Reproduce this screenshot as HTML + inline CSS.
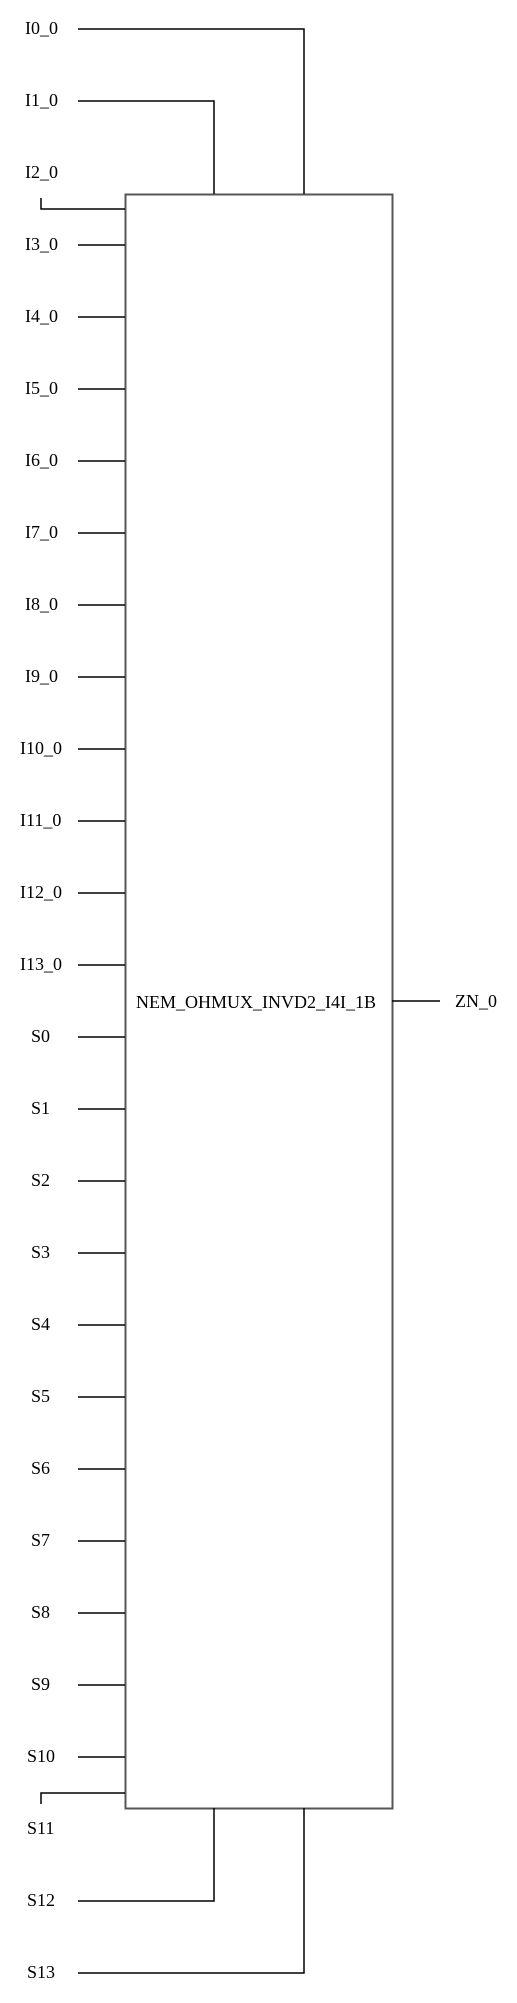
<!DOCTYPE html>
<html><head><meta charset="utf-8"><style>
html,body{margin:0;padding:0;background:#fff;width:517px;height:2003px;overflow:hidden}
svg text{font-family:"Liberation Serif",serif;font-size:18px;fill:#000}
</style></head><body>
<svg id="sch" width="517" height="2003" viewBox="0 0 517 2003" xmlns="http://www.w3.org/2000/svg">
<rect x="125.5" y="194.5" width="267" height="1614" fill="none" stroke="#555" stroke-width="2"/>
<text x="136" y="1008">NEM_OHMUX_INVD2_I4I_1B</text>
<line x1="392" y1="1001" x2="440" y2="1001" stroke="#000" stroke-width="1.5"/>
<text x="455" y="1007">ZN_0</text>
<g id="pins"></g>
</svg>
<script>
const pinNames = ["I0_0","I1_0","I2_0","I3_0","I4_0","I5_0","I6_0","I7_0","I8_0","I9_0","I10_0","I11_0","I12_0","I13_0","S0","S1","S2","S3","S4","S5","S6","S7","S8","S9","S10","S11","S12","S13"];
const g = document.getElementById('pins');
const NS = 'http://www.w3.org/2000/svg';
const rowY = i => 29 + 72 * i;
function mk(tag, attrs){const e=document.createElementNS(NS,tag);for(const k in attrs)e.setAttribute(k,attrs[k]);g.appendChild(e);return e;}
pinNames.forEach((n,i)=>{
  const y = rowY(i);
  const t = mk('text',{x: n.startsWith('S') ? (n.length>2?27:31) : (n.length>4?20:25), y: y+5});
  t.textContent = n;
  
  
  let d;
  if (n === 'I0_0') d = `M78 ${y} H304 V194`;
  else if (n === 'I1_0') d = `M78 ${y} H214 V194`;
  else if (n === 'I2_0') d = `M41 198 V209 H125`;
  else if (n === 'S11') d = `M41 1804 V1793 H125`;
  else if (n === 'S12') d = `M78 ${y} H214 V1808`;
  else if (n === 'S13') d = `M78 ${y} H304 V1808`;
  else d = `M78 ${y} H125`;
  const p = mk('path',{d: d, fill:'none', stroke:'#000', 'stroke-width':1.5});
  
  
});
</script>
</body></html>
